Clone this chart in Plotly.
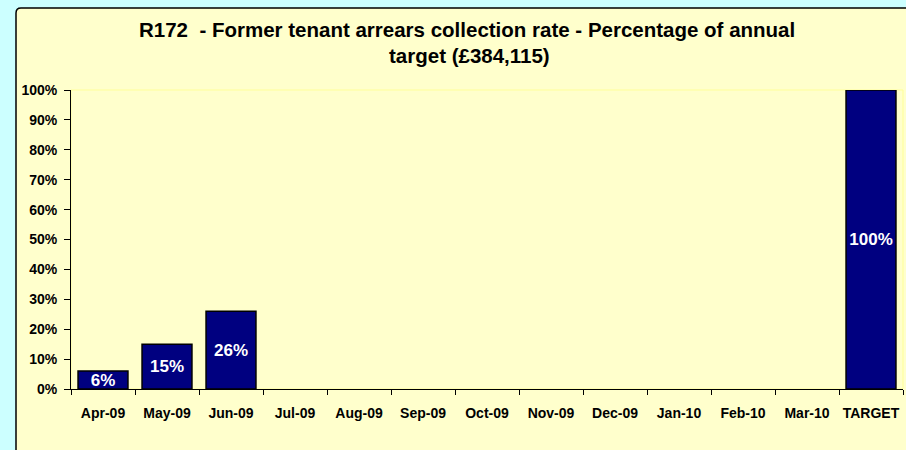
import plotly.graph_objs as go

# data
months = ['Apr-09', 'May-09', 'Jun-09', 'Jul-09', 'Aug-09', 'Sep-09', 'Oct-09',
          'Nov-09', 'Dec-09', 'Jan-10', 'Feb-10', 'Mar-10', 'TARGET']
rates = [0.06, 0.15, 0.26, None, None, None, None, None, None, None, None, None, 1.0]
y_ticks = [0, 0.1, 0.2, 0.3, 0.4, 0.5, 0.6, 0.7, 0.8, 0.9, 1.0]
title_lines = ['R172  - Former tenant arrears collection rate - Percentage of annual',
               'target (£384,115)']

colors = {
    'outer': '#ccffff',
    'chart': '#ffffcc',
    'bar': '#000080',
    'text': '#000000',
    'plotline': '#ffff99',
}
font_family = "Arial, 'Liberation Sans', sans-serif"

fig = go.Figure()
fig.add_trace(go.Bar(
    x=months, y=rates,
    marker=dict(color=colors['bar'], line=dict(color='#000000', width=1.5)),
    texttemplate='%{y:.0%}',
    textposition='inside',
    insidetextanchor='middle',
    textangle=0,
    constraintext='none',
    textfont=dict(family=font_family, size=17, color='white', weight='bold'),
    hoverinfo='skip',
))

# chart area box (rounded top-left corner) drawn in paper coords
L, R, T, B = 71, 903, 90, 389
def px(x):
    return (x - L) / (R - L)
def py(y):
    return (B - y) / (B - T)

x0, x1, y0, y1 = px(16), px(930), py(8), py(470)
r = 5
path = (f"M {x0},{py(8 + r)} Q {x0},{y0} {px(16 + r)},{y0} "
        f"L {x1},{y0} L {x1},{y1} L {x0},{y1} Z")

fig.update_layout(
    width=906, height=450,
    margin=dict(l=L, r=906 - R, t=T, b=450 - B),
    paper_bgcolor=colors['outer'],
    plot_bgcolor='rgba(0,0,0,0)',
    bargap=0.22,
    showlegend=False,
    font=dict(family=font_family, size=14, color=colors['text']),
    annotations=[
        dict(text=title_lines[0], x=px(467), y=py(30), xref='paper', yref='paper',
             xanchor='center', yanchor='middle', showarrow=False,
             font=dict(family=font_family, size=20.5, color=colors['text'], weight='bold')),
        dict(text=title_lines[1], x=px(469), y=py(55), xref='paper', yref='paper',
             xanchor='center', yanchor='middle', showarrow=False,
             font=dict(family=font_family, size=20.5, color=colors['text'], weight='bold')),
    ],
    shapes=[
        dict(type='path', path=path, xref='paper', yref='paper', layer='below',
             fillcolor=colors['chart'], line=dict(color='#000000', width=1.5)),
        dict(type='rect', x0=0, x1=1, y0=0, y1=1, xref='paper', yref='paper', layer='below',
             fillcolor='rgba(0,0,0,0)', line=dict(color=colors['plotline'], width=1)),
    ],
    xaxis=dict(
        type='category',
        showgrid=False,
        showline=True, linecolor='#000000', linewidth=1,
        ticks='outside', tickson='boundaries', ticklen=5, tickcolor='#000000',
        ticklabelstandoff=11, tickangle=0,
        tickfont=dict(family=font_family, size=14, color=colors['text'], weight='bold'),
        fixedrange=True,
    ),
    yaxis=dict(
        range=[0, 1],
        tickvals=y_ticks,
        tickformat='.0%',
        showgrid=False, zeroline=False,
        showline=True, linecolor='#000000', linewidth=1,
        ticks='outside', ticklen=6, tickcolor='#000000',
        ticklabelstandoff=4,
        tickfont=dict(family=font_family, size=14, color=colors['text'], weight='bold'),
        fixedrange=True,
    ),
)

fig.write_html("out.html", config={'displayModeBar': False},
               post_script="document.body.style.margin='0';")
